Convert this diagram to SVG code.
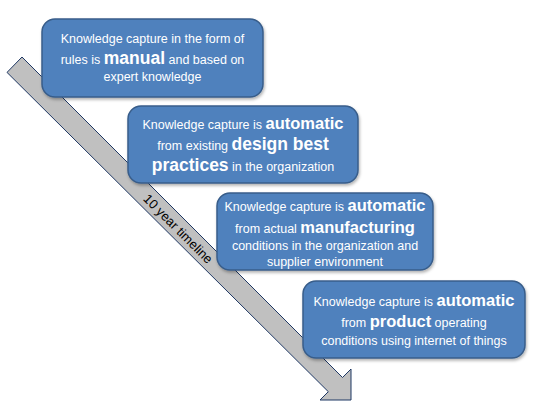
<svg xmlns="http://www.w3.org/2000/svg" width="550" height="413" viewBox="0 0 550 413">
<defs>
<filter id="sh" x="-10%" y="-10%" width="120%" height="130%">
<feDropShadow dx="1" dy="2" stdDeviation="1.5" flood-color="#000" flood-opacity="0.3"/>
</filter>
</defs>
<style>
.box{fill:#4f81bd;stroke:#385d8a;stroke-width:1.5;filter:url(#sh)}
.t{font-family:"Liberation Sans",Arial,sans-serif;font-size:12.5px;fill:#fff;text-anchor:middle}
.b{font-weight:bold;font-size:16.5px}
.bb{font-weight:bold;font-size:17.5px}
.arrow{fill:#c0c0c0;stroke:#1f3864;stroke-width:1}
.tl{font-family:"Liberation Sans",Arial,sans-serif;font-size:13px;fill:#000;text-anchor:middle}
</style>
<rect width="550" height="413" fill="#fff"/>
<g id="connectors">
<polygon class="arrow" points="22,57 342.5,377.5 351,369 351,400 320,400 328.3,391.7 7,72.4"/>
<text class="tl" transform="translate(175,232) rotate(45)">10 year timeline</text>
</g>
<g id="node1">
<rect class="box" x="42" y="19" width="221" height="78" rx="13"/>
<text class="t" x="152.5" y="42.5">Knowledge capture in the form of</text>
<text class="t" x="152.5" y="63.5">rules is <tspan class="bb">manual</tspan> and based on</text>
<text class="t" x="152.5" y="80.5">expert knowledge</text>
</g>
<g id="node2">
<rect class="box" x="128" y="106" width="230" height="77" rx="13"/>
<text class="t" x="243" y="128.5">Knowledge capture is <tspan class="b">automatic</tspan></text>
<text class="t" x="243" y="149.5">from existing <tspan class="bb">design best</tspan></text>
<text class="t" x="243" y="170.5"><tspan class="bb">practices</tspan> in the organization</text>
</g>
<g id="node3">
<rect class="box" x="217" y="193" width="216" height="77" rx="13"/>
<text class="t" x="325" y="210.5">Knowledge capture is <tspan class="b">automatic</tspan></text>
<text class="t" x="325" y="233">from actual <tspan class="b">manufacturing</tspan></text>
<text class="t" x="325" y="250">conditions in the organization and</text>
<text class="t" x="325" y="266">supplier environment</text>
</g>
<g id="node4">
<rect class="box" x="303" y="281" width="222" height="77" rx="13"/>
<text class="t" x="414" y="306">Knowledge capture is <tspan class="b">automatic</tspan></text>
<text class="t" x="414" y="327">from <tspan class="b">product</tspan> operating</text>
<text class="t" x="414" y="345">conditions using internet of things</text>
</g>
</svg>
